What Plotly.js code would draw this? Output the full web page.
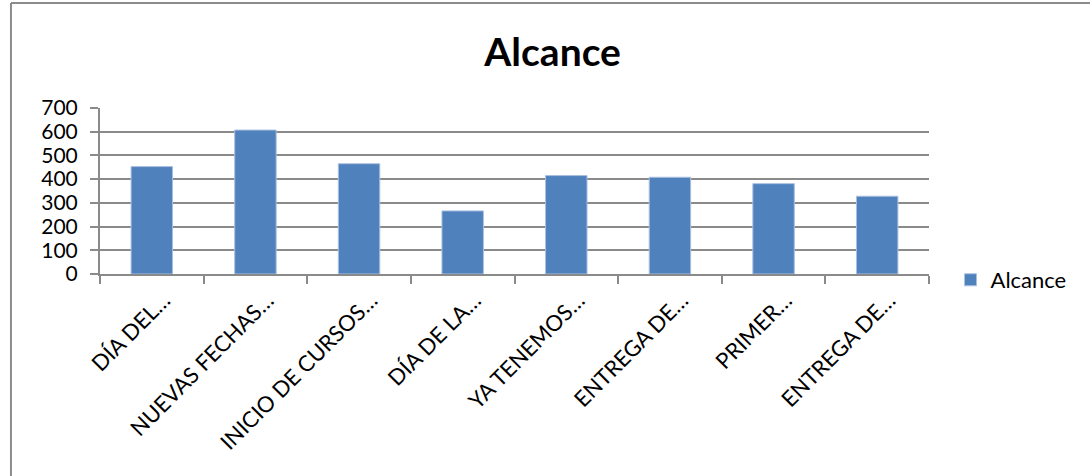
<!DOCTYPE html>
<html>
<head>
<meta charset="utf-8">
<script src="https://cdn.plot.ly/plotly-3.0.1.min.js"></script>
<style>
  html, body { margin: 0; padding: 0; background: #ffffff; }
  #chart { width: 1090px; height: 476px; }
</style>
</head>
<body>
<div id="chart"></div>
<script>
const categories = ["DÍA DEL…", "NUEVAS FECHAS…", "INICIO DE CURSOS…", "DÍA DE LA…", "YA TENEMOS…", "ENTREGA DE…", "PRIMER…", "ENTREGA DE…"];
const alcance = [453, 607, 465, 266, 415, 408, 381, 328];
const seriesName = "Alcance";
const yTicks = [0, 100, 200, 300, 400, 500, 600, 700];

const positions = categories.map((c, i) => i);
const boundaries = categories.map((c, i) => i - 0.5).concat([categories.length - 0.5]);

const FONT = "Lato, 'Open Sans', sans-serif";
const GRID = "#8a8a8a";

const trace = {
  type: "bar",
  name: seriesName,
  x: positions,
  y: alcance,
  width: 0.4,
  marker: { color: "#4F81BD", line: { color: "#a9c0e0", width: 1 } },
  hoverinfo: "y"
};

const layout = {
  width: 1090,
  height: 476,
  margin: { l: 100, r: 161, t: 108, b: 202 },
  paper_bgcolor: "#ffffff",
  plot_bgcolor: "#ffffff",
  font: { family: FONT, color: "#000000", size: 21 },
  title: {
    text: "<b>Alcance</b>",
    font: { family: FONT, size: 39, color: "#000000" },
    x: 0.507, xanchor: "center",
    y: 0.89, yanchor: "middle", yref: "container"
  },
  xaxis: {
    range: [-0.5, categories.length - 0.5],
    tickmode: "array",
    tickvals: positions,
    ticktext: categories,
    tickangle: -45,
    ticks: "",
    ticklabelshift: 12,
    ticklabelstandoff: 3,
    tickfont: { family: FONT, size: 22, color: "#000000" },
    showline: true, linecolor: GRID, linewidth: 2,
    showgrid: false, zeroline: false,
    minor: { tickmode: "array", tickvals: boundaries, ticks: "outside", ticklen: 8, tickwidth: 2, tickcolor: GRID, showgrid: false }
  },
  yaxis: {
    range: [0, 700],
    tickmode: "array",
    tickvals: yTicks,
    ticks: "outside", ticklen: 8, tickwidth: 2, tickcolor: GRID,
    ticklabelstandoff: 8,
    tickfont: { family: FONT, size: 21, color: "#000000" },
    showline: true, linecolor: GRID, linewidth: 2,
    showgrid: true, gridcolor: GRID, gridwidth: 2,
    zeroline: false
  },
  showlegend: true,
  legend: {
    x: 1.026, xanchor: "left",
    y: -0.036, yanchor: "middle",
    font: { family: FONT, size: 22, color: "#000000" },
    bgcolor: "rgba(0,0,0,0)"
  },
  shapes: [
    { type: "line", xref: "paper", yref: "paper", x0: -0.1074, x1: 1.2, y0: 1.633, y1: 1.633, line: { color: "#8c8c8c", width: 2 } },
    { type: "line", xref: "paper", yref: "paper", x0: -0.1074, x1: -0.1074, y0: 1.633, y1: -1.25, line: { color: "#8c8c8c", width: 2 } }
  ],
  bargap: 0.6
};

Plotly.newPlot("chart", [trace], layout, { displayModeBar: false, staticPlot: true });
</script>
</body>
</html>
